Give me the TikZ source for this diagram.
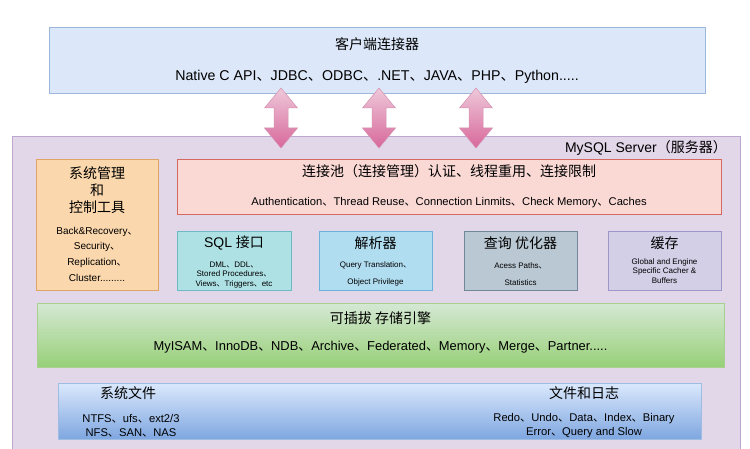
\documentclass[tikz,border=0pt]{standalone}
\usepackage{fontspec}
\setmainfont{Liberation Sans}
\newfontfamily\cjk{Noto Sans CJK SC}
\usetikzlibrary{positioning}
\definecolor{clibg}{HTML}{DCE8F9}
\definecolor{clidraw}{HTML}{9DB7DC}
\definecolor{srvbg}{HTML}{E2D6E9}
\definecolor{srvdraw}{HTML}{BDA7CF}
\definecolor{mgmtbg}{HTML}{FAD7AC}
\definecolor{mgmtdraw}{HTML}{E0A464}
\definecolor{poolbg}{HTML}{FAD9D5}
\definecolor{pooldraw}{HTML}{D6695F}
\definecolor{sqlbg}{HTML}{AEE1E4}
\definecolor{sqldraw}{HTML}{6DBAC6}
\definecolor{parsbg}{HTML}{B1DDF0}
\definecolor{parsdraw}{HTML}{6AB2DC}
\definecolor{optbg}{HTML}{BAC8D3}
\definecolor{optdraw}{HTML}{71879A}
\definecolor{cachebg}{HTML}{D2CFE6}
\definecolor{cachedraw}{HTML}{9C97C8}
\definecolor{engtop}{HTML}{D5E8D4}
\definecolor{engbot}{HTML}{97D077}
\definecolor{engdraw}{HTML}{A9D08E}
\definecolor{filetop}{HTML}{DAE8FC}
\definecolor{filebot}{HTML}{7EA6E0}
\definecolor{filedraw}{HTML}{9FBCE3}
\definecolor{arrtop}{HTML}{EEC8DA}
\definecolor{arrbot}{HTML}{D8689A}
\definecolor{arrdraw}{HTML}{D690B0}
\newcommand{\dunhao}{{\cjk 、}}
\tikzset{
  % 方框
  blk/.style={draw, line width=0.8pt, inner sep=0pt, anchor=north west},
  clibox/.style={blk, fill=clibg, draw=clidraw},
  srvbox/.style={blk, fill=srvbg, draw=srvdraw},
  mgmtbox/.style={blk, fill=mgmtbg, draw=mgmtdraw},
  poolbox/.style={blk, fill=poolbg, draw=pooldraw},
  sqlbox/.style={blk, fill=sqlbg, draw=sqldraw},
  parsbox/.style={blk, fill=parsbg, draw=parsdraw},
  optbox/.style={blk, fill=optbg, draw=optdraw},
  cachebox/.style={blk, fill=cachebg, draw=cachedraw},
  engbox/.style={blk, top color=engtop, bottom color=engbot, draw=engdraw},
  filebox/.style={blk, top color=filetop, bottom color=filebot, draw=filedraw},
  % 双向箭头
  pinkarrow/.style={top color=arrtop, bottom color=arrbot, draw=arrdraw, line width=0.5pt},
  % 文字
  cn/.style={font=\cjk\fontsize{14}{17}\selectfont, align=center, inner sep=0pt},
  enbig/.style={font=\fontsize{14.2}{16}\selectfont, align=center, inner sep=0pt},
  enmid/.style={font=\fontsize{12.9}{15}\selectfont, align=center, inner sep=0pt},
  ensmall/.style={font=\fontsize{11.2}{14}\selectfont, align=center, inner sep=0pt},
  enmgmt/.style={font=\fontsize{10}{15.7}\selectfont, align=center, inner sep=0pt},
  entiny/.style={font=\fontsize{8}{9.5}\selectfont, align=center, inner sep=0pt},
  entinyb/.style={font=\fontsize{8}{17}\selectfont, align=center, inner sep=0pt},
  encache/.style={font=\fontsize{8}{9.5}\selectfont, align=center, inner sep=0pt},
}
\begin{document}
\begin{tikzpicture}[x=1pt, y=-1pt]
  \useasboundingbox (0,0) rectangle (750,449);
  % 客户端
  \node[clibox, minimum width=656, minimum height=66] (client) at (49,27) {};
  \node[cn] (clititle) at (377,44) {客户端连接器};
  \node[enbig] (clilist) at (377,77) {Native C API\dunhao JDBC\dunhao ODBC\dunhao .NET\dunhao JAVA\dunhao PHP\dunhao Python.....};
  % 服务器
  \node[srvbox, minimum width=728, minimum height=330] (server) at (12,136) {};
  \node[cn, anchor=east] (srvtitle) at (727,148) {\rmfamily MySQL Server{\cjk（服务器）}};
  \foreach \ax [count=\i] in {281,379,476} {
    \coordinate (tip\i) at (\ax,88);
    \shadedraw[pinkarrow] (tip\i) -- ++(16.5,20) -- ++(-9.5,0) -- ++(0,20) -- ++(9.5,0)
      -- ++(-16.5,20) -- ++(-16.5,-20) -- ++(9.5,0) -- ++(0,-20) -- ++(-9.5,0) -- cycle;
  }
  % 管理工具
  \node[mgmtbox, minimum width=122, minimum height=131] (mgmt) at (36,159) {};
  \node[cn] (mgmttitle) at (97,190) {系统管理\\和\\控制工具};
  \node[enmgmt] (mgmtlist) at (97,254) {Back\&Recovery\dunhao\\Security\dunhao\\Replication\dunhao\\Cluster.........};
  % 连接池
  \node[poolbox, minimum width=544, minimum height=55] (pool) at (177,159) {};
  \node[cn] (pooltitle) at (449,171) {连接池（连接管理）认证、线程重用、连接限制};
  \node[ensmall] (poollist) at (449,203) {Authentication\dunhao Thread Reuse\dunhao Connection Linmits\dunhao Check Memory\dunhao Caches};
  % 四个模块
  \node[sqlbox, minimum width=114, minimum height=59] (sql) at (177,231) {};
  \node[cn] (sqltitle) at (234,243) {\rmfamily SQL {\cjk 接口}};
  \node[entiny] (sqllist) at (234,275) {DML\dunhao DDL\dunhao\\Stored Procedures\dunhao\\Views\dunhao Triggers\dunhao etc};
  \node[parsbox, minimum width=113, minimum height=59] (parser) at (319,231) {};
  \node[cn] (parstitle) at (375.5,243) {解析器};
  \node[entinyb] (parslist) at (375.5,274) {Query Translation\dunhao\\Object Privilege};
  \node[optbox, minimum width=113, minimum height=59] (optim) at (464,231) {};
  \node[cn] (opttitle) at (520.5,243) {查询 优化器};
  \node[entinyb] (optlist) at (520.5,274) {Acess Paths\dunhao\\Statistics};
  \node[cachebox, minimum width=113, minimum height=59] (cache) at (608,231) {};
  \node[cn] (cachetitle) at (664.5,243) {缓存};
  \node[encache] (cachelist) at (664.5,271) {Global and Engine\\Specific Cacher \&\\Buffers};
  % 存储引擎
  \node[engbox, minimum width=687, minimum height=64] (engine) at (37,303) {};
  \node[cn] (engtitle) at (380.5,318) {可插拔 存储引擎};
  \node[enmid] (englist) at (380.5,347) {MyISAM\dunhao InnoDB\dunhao NDB\dunhao Archive\dunhao Federated\dunhao Memory\dunhao Merge\dunhao Partner.....};
  % 文件
  \node[filebox, minimum width=643, minimum height=56] (files) at (58,383) {};
  \node[cn] (fstitle) at (128,393) {系统文件};
  \node[ensmall] (fslist) at (131,426) {NTFS\dunhao ufs\dunhao ext2/3\\NFS\dunhao SAN\dunhao NAS};
  \node[cn] (logtitle) at (584,393) {文件和日志};
  \node[ensmall] (loglist) at (584,426) {Redo\dunhao Undo\dunhao Data\dunhao Index\dunhao Binary\\Error\dunhao Query and Slow};
\end{tikzpicture}
\end{document}
